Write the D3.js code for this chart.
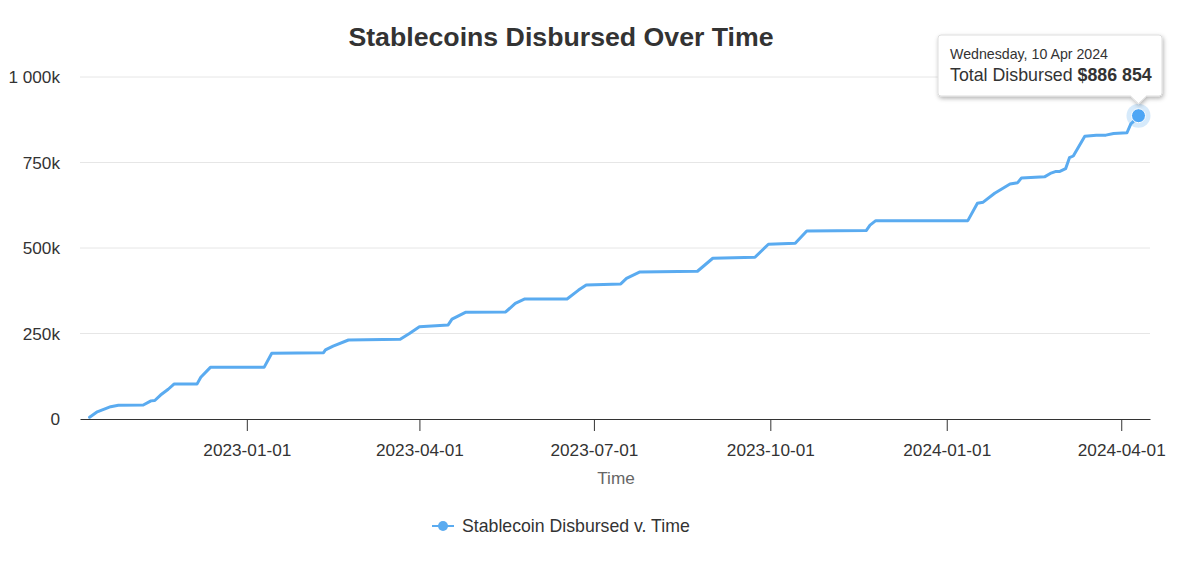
<!DOCTYPE html>
<html>
<head>
<meta charset="utf-8">
<script src="https://cdn.jsdelivr.net/npm/d3@7"></script>
<style>
  body { margin: 0; background: #fff; }
  .chart { width: 1200px; height: 566px; }
  text { font-family: "Liberation Sans", Arial, Helvetica, sans-serif; }
</style>
</head>
<body>
<div class="chart"></div>
<script>
// cumulative disbursements (date, dollars)
const dates = ['2022-10-11', '2022-10-15', '2022-10-22', '2022-10-26', '2022-11-08', '2022-11-12',
  '2022-11-14', '2022-11-17', '2022-11-21', '2022-11-24', '2022-12-06', '2022-12-08', '2022-12-13',
  '2023-01-10', '2023-01-14', '2023-02-10', '2023-02-11', '2023-02-15', '2023-02-23', '2023-03-22',
  '2023-03-27', '2023-04-01', '2023-04-16', '2023-04-18', '2023-04-25', '2023-05-16', '2023-05-21',
  '2023-05-26', '2023-06-17', '2023-06-23', '2023-06-27', '2023-07-15', '2023-07-18', '2023-07-25',
  '2023-08-24', '2023-09-01', '2023-09-23', '2023-09-30', '2023-10-14', '2023-10-20', '2023-11-20',
  '2023-11-22', '2023-11-25', '2024-01-12', '2024-01-17', '2024-01-20', '2024-01-26', '2024-02-03',
  '2024-02-07', '2024-02-09', '2024-02-21', '2024-02-24', '2024-02-27', '2024-02-29', '2024-03-03',
  '2024-03-05', '2024-03-07', '2024-03-13', '2024-03-19', '2024-03-24', '2024-03-28', '2024-04-04',
  '2024-04-06', '2024-04-07', '2024-04-10'];
const totals = [5000, 21000, 36000, 40000, 41000, 53000,
  54000, 70000, 87000, 102000, 102000, 122000, 151000,
  151000, 192000, 194000, 202000, 213000, 231000, 233000,
  251000, 270000, 275000, 292000, 312000, 313000, 338000,
  351000, 351000, 377000, 392000, 395000, 411000, 430000,
  432000, 470000, 473000, 511000, 514000, 550000, 551000,
  567000, 580000, 580000, 631000, 634000, 660000, 687000,
  691000, 705000, 708000, 718000, 724000, 724000, 732000,
  764000, 769000, 827000, 830000, 830000, 835000, 837000,
  863000, 868000, 886854];

const yTicks = [0, 250000, 500000, 750000, 1000000];
const xTicks = ['2023-01-01', '2023-04-01', '2023-07-01', '2023-10-01', '2024-01-01', '2024-04-01'];
const xRange = ['2022-10-06', '2024-04-16'];

const title = 'Stablecoins Disbursed Over Time';
const seriesName = 'Stablecoin Disbursed v. Time';
const lineColor = '#5aabf0';

const parse = d3.timeParse('%Y-%m-%d');
const data = dates.map((d, i) => ({ date: parse(d), value: totals[i] }));

const width = 1200, height = 566;
const margin = { top: 77, right: 50, bottom: 147, left: 80 };

const svg = d3.select('.chart').append('svg').attr('width', width).attr('height', height);

const x = d3.scaleTime().domain(xRange.map(parse)).range([margin.left, width - margin.right]);
const y = d3.scaleLinear().domain([0, 1000000]).range([height - margin.bottom, margin.top]);

// title
svg.append('text')
  .attr('x', 561).attr('y', 46)
  .attr('text-anchor', 'middle')
  .attr('font-size', 26.7).attr('font-weight', 'bold').attr('fill', '#333')
  .text(title);

// y grid + labels
const fmtK = v => v === 0 ? '0' : d3.format(',')(v / 1000).replace(/,/g, ' ') + 'k';
svg.append('g')
  .selectAll('line')
  .data(yTicks.filter(d => d > 0))
  .join('line')
  .attr('x1', margin.left).attr('x2', width - margin.right)
  .attr('y1', d => y(d)).attr('y2', d => y(d))
  .attr('stroke', '#e6e6e6').attr('stroke-width', 1);

svg.append('g')
  .selectAll('text')
  .data(yTicks)
  .join('text')
  .attr('x', 60).attr('y', d => y(d) + 6)
  .attr('text-anchor', 'end')
  .attr('font-size', 17.2).attr('fill', '#333')
  .text(fmtK);

// x axis
const xAxis = d3.axisBottom(x)
  .tickValues(xTicks.map(parse))
  .tickFormat(d3.timeFormat('%Y-%m-%d'))
  .tickSize(12)
  .tickSizeOuter(0)
  .tickPadding(13);

const gx = svg.append('g')
  .attr('transform', `translate(0,${y(0)})`)
  .call(xAxis);
gx.select('.domain').attr('stroke', '#333').attr('stroke-width', 1.2);
gx.selectAll('.tick line').attr('stroke', '#333');
gx.selectAll('.tick text').attr('font-size', 17.2).attr('fill', '#333')
  .attr('font-family', '"Liberation Sans", Arial, sans-serif');

svg.append('text')
  .attr('x', 616).attr('y', 484)
  .attr('text-anchor', 'middle')
  .attr('font-size', 17.2).attr('fill', '#666')
  .text('Time');

// the line
const line = d3.line().x(d => x(d.date)).y(d => y(d.value));
svg.append('path')
  .datum(data)
  .attr('d', line)
  .attr('fill', 'none')
  .attr('stroke', lineColor)
  .attr('stroke-width', 3)
  .attr('stroke-linejoin', 'round')
  .attr('stroke-linecap', 'round');

// hovered point
const last = data[data.length - 1];
const px = x(last.date), py = y(last.value);
svg.append('circle').attr('cx', px).attr('cy', py).attr('r', 12)
  .attr('fill', lineColor).attr('opacity', 0.25);
svg.append('circle').attr('cx', px).attr('cy', py).attr('r', 7)
  .attr('fill', '#4ea6f5').attr('stroke', '#fff').attr('stroke-width', 1);

// tooltip
const defs = svg.append('defs');
const filt = defs.append('filter').attr('id', 'shadow').attr('x', '-10%').attr('y', '-20%')
  .attr('width', '130%').attr('height', '160%');
filt.append('feDropShadow').attr('dx', 1).attr('dy', 2).attr('stdDeviation', 2)
  .attr('flood-color', '#000').attr('flood-opacity', 0.3);

const tx0 = 938, tx1 = 1162, ty0 = 35, ty1 = 96, r = 3;
const tipX = px, tipY = py - 12;
const tipPath = `M${tx0 + r},${ty0} H${tx1 - r} Q${tx1},${ty0} ${tx1},${ty0 + r} V${ty1 - r}
  Q${tx1},${ty1} ${tx1 - r},${ty1} H${tipX + 8} L${tipX},${tipY} L${tipX - 8},${ty1}
  H${tx0 + r} Q${tx0},${ty1} ${tx0},${ty1 - r} V${ty0 + r} Q${tx0},${ty0} ${tx0 + r},${ty0} Z`;
svg.append('path')
  .attr('d', tipPath)
  .attr('fill', '#fff')
  .attr('stroke', '#ddd')
  .attr('stroke-width', 1)
  .attr('filter', 'url(#shadow)');

svg.append('text')
  .attr('x', 950).attr('y', 59)
  .attr('font-size', 14.2).attr('fill', '#333')
  .text(d3.timeFormat('%A, %-d %b %Y')(last.date));

const t2 = svg.append('text')
  .attr('x', 950).attr('y', 81)
  .attr('font-size', 17.8).attr('fill', '#333');
t2.append('tspan').text('Total Disbursed ');
t2.append('tspan').attr('font-weight', 'bold')
  .text('$' + d3.format(',')(last.value).replace(/,/g, ' '));

// legend
const lg = svg.append('g').attr('transform', 'translate(0,526)');
lg.append('line').attr('x1', 432).attr('x2', 454).attr('y1', 0).attr('y2', 0)
  .attr('stroke', lineColor).attr('stroke-width', 2);
lg.append('circle').attr('cx', 443).attr('cy', 0).attr('r', 5).attr('fill', lineColor);
lg.append('text').attr('x', 462).attr('y', 6)
  .attr('font-size', 17.7).attr('fill', '#333')
  .text(seriesName);
</script>
</body>
</html>
